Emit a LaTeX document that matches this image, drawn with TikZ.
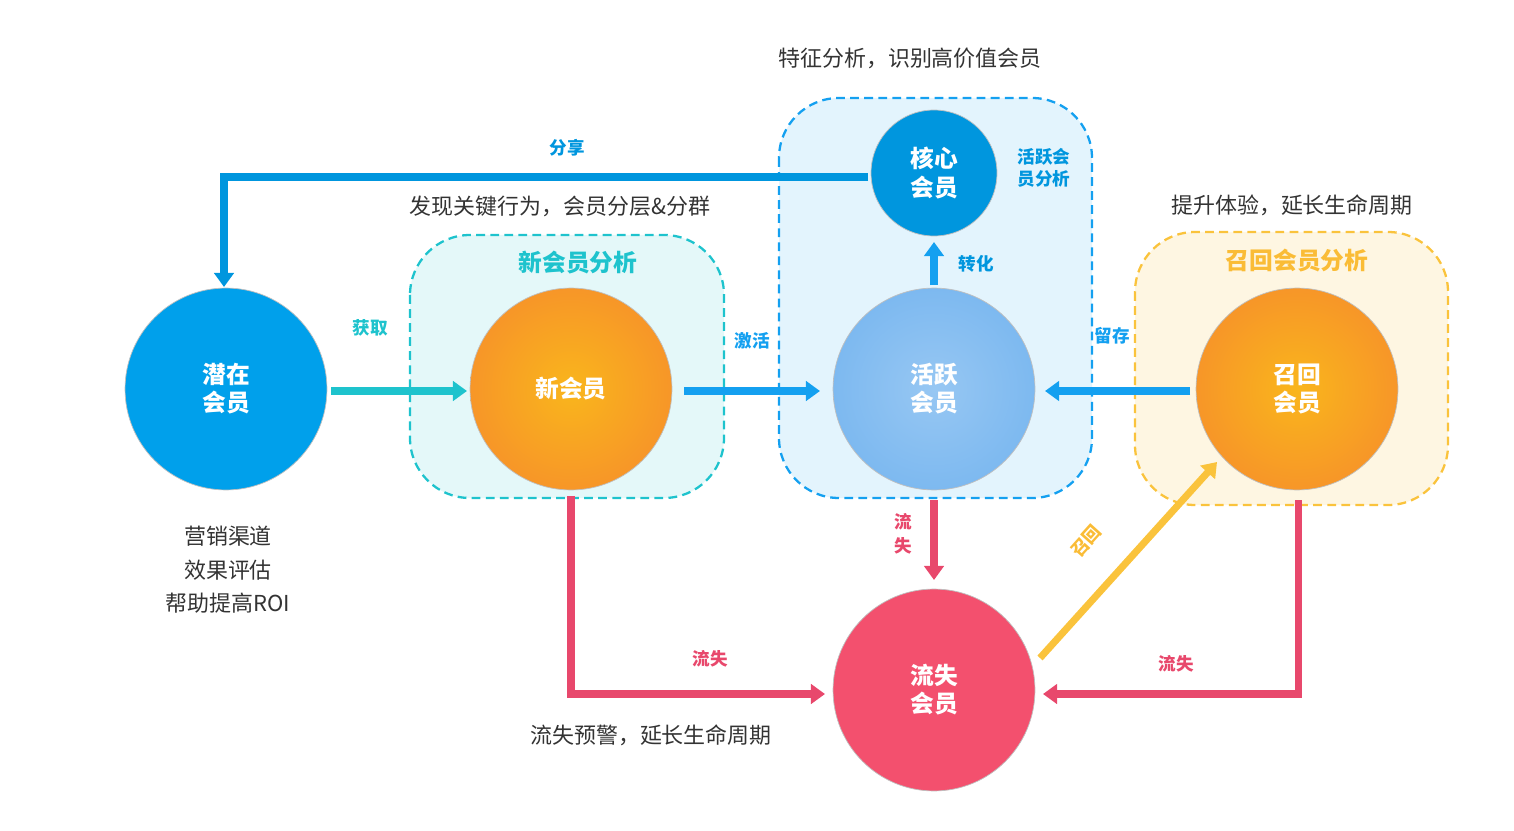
\documentclass[tikz,border=0pt]{standalone}
\usepackage{fontspec}
\setmainfont{Noto Sans CJK SC}
\usetikzlibrary{arrows.meta}
\definecolor{cblue}{RGB}{0,160,235}
\definecolor{corange}{RGB}{247,150,40}
\definecolor{clblue}{RGB}{125,185,240}
\definecolor{ccore}{RGB}{0,150,222}
\definecolor{cred}{RGB}{243,80,110}
\definecolor{lred}{RGB}{232,72,108}
\definecolor{cteal}{RGB}{30,195,205}
\definecolor{cyel}{RGB}{250,195,60}
\definecolor{abl}{RGB}{20,160,240}
\tikzset{
 circ/.style={circle,minimum size=#1*0.04cm,inner sep=0pt,text=white,font=\fontsize{13.5}{16}\selectfont\bfseries,align=center,draw=black!25,line width=0.4pt},
 box/.style={rounded corners=1.2cm,dashed,dash pattern=on 5pt off 3pt,line width=1.3pt},
 arr/.style={line width=4pt,-{Triangle[length=8pt,width=11pt]}},
 lbl/.style={font=\fontsize{10}{12}\selectfont\bfseries},
 txt/.style={font=\fontsize{12.5}{15}\selectfont,text=black!80,align=center},
 ttl/.style={font=\fontsize{13.5}{16}\selectfont\bfseries},
}
\begin{document}
\begin{tikzpicture}[x=0.02cm,y=-0.02cm]
\useasboundingbox (0,0) rectangle (1514,831);
% boxes
\draw[box,draw=cteal,fill=cteal!12] (410,235) rectangle (724,498);
\draw[box,draw=abl,fill=abl!12] (779,98) rectangle (1092,498);
\draw[box,draw=cyel,fill=cyel!15] (1135,232) rectangle (1448,505);
\node[ttl,text=cteal] (t1) at (578,263) {新会员分析};
\node[ttl,text=cyel!90!orange] (t2) at (1297,261) {召回会员分析};
% circles
\node[circ=101,fill=cblue] (qz) at (226,389) {潜在\\会员};
\node[circ=101,inner color=corange!70!yellow,outer color=corange] (xh) at (571,389) {新会员};
\node[circ=101,inner color=clblue!80!white,outer color=clblue] (hy) at (934,389) {活跃\\会员};
\node[circ=63,fill=ccore] (hx) at (934,173) {核心\\会员};
\node[circ=101,inner color=corange!70!yellow,outer color=corange] (zh) at (1297,389) {召回\\会员};
\node[circ=101,fill=cred] (ls) at (934,690) {流失\\会员};
% texts
\node[txt] (a1) at (910,58) {特征分析，识别高价值会员};
\node[txt] (a2) at (560,206) {发现关键行为，会员分层\&分群};
\node[txt] (a3) at (1292,205) {提升体验，延长生命周期};
\node[txt,font=\fontsize{12.5}{19}\selectfont] (a4) at (228,570) {营销渠道\\效果评估\\帮助提高ROI};
\node[txt] (a5) at (651,735) {流失预警，延长生命周期};
\node[lbl,text=ccore,align=left,font=\fontsize{10}{12.5}\selectfont\bfseries] (a6) at (1044,168) {活跃会\\员分析};
% coordinates
\coordinate (s1) at (868,177); \coordinate (s2) at (224,177); \coordinate (s3) at (224,287);
\coordinate (r1) at (571,496); \coordinate (r2) at (571,694); \coordinate (r3) at (825,694);
\coordinate (p1) at (1298,500); \coordinate (p2) at (1298,694); \coordinate (p3) at (1043,694);
% arrows
\draw[arr,draw=ccore] (s1) -- (s2) -- (s3);
\node[lbl,text=ccore] at (567,148) {分享};
\draw[arr,draw=cteal] (331,391) coordinate (g1) -- (467,391) coordinate (g2);
\node[lbl,text=cteal] at (370,328) {获取};
\draw[arr,draw=abl] (684,391) -- (820,391);
\node[lbl,text=abl] at (752,341) {激活};
\draw[arr,draw=abl] (934,285) -- (934,242);
\node[lbl,text=ccore] at (976,264) {转化};
\draw[arr,draw=abl] (1190,391) -- (1045,391);
\node[lbl,text=abl] at (1112,336) {留存};
\draw[arr,draw=lred] (934,500) -- (934,580);
\node[lbl,text=lred,align=center,font=\fontsize{10}{13.5}\selectfont\bfseries] at (903,534) {流\\失};
\draw[arr,draw=lred] (r1) -- (r2) -- (r3);
\node[lbl,text=lred] at (710,659) {流失};
\draw[arr,draw=lred] (p1) -- (p2) -- (p3);
\node[lbl,text=lred] at (1176,664) {流失};
\draw[arr,draw=cyel] (1040,658) -- (1217,462);
\node[lbl,text=cyel!90!orange,rotate=48] at (1086,541) {召回};
\end{tikzpicture}
\end{document}
